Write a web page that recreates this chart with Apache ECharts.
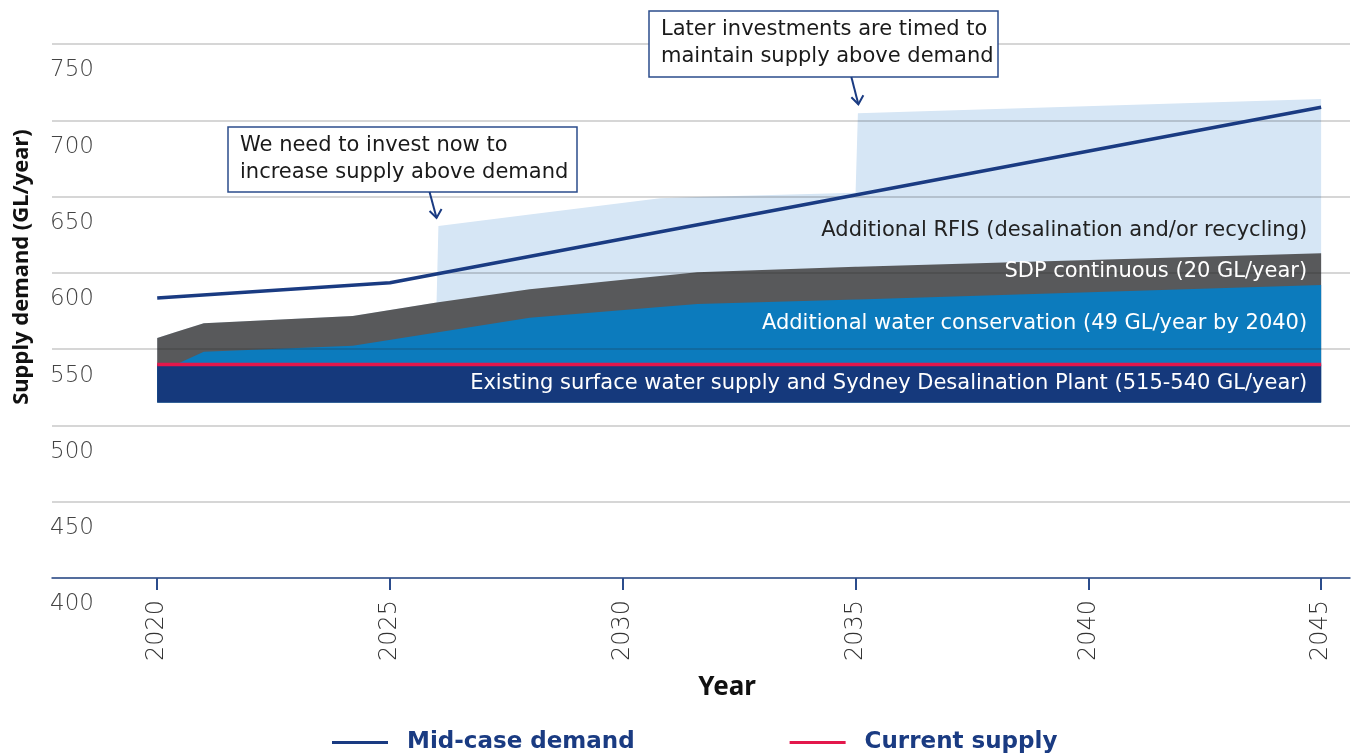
<!DOCTYPE html>
<html>
<head>
<meta charset="utf-8">
<script src="https://cdn.jsdelivr.net/npm/echarts@6/dist/echarts.min.js"></script>
<style>
  html, body { margin: 0; padding: 0; background: #fff; }
  #chart { width: 1356px; height: 754px; }
</style>
</head>
<body>
<div id="chart"></div>
<script>
// boundary readings (GL/year) at shared x points
const years = [2020, 2020.4, 2021, 2024.2, 2026, 2026.04, 2028, 2030.8, 2031.6, 2035, 2035.05, 2045]
const existingLow = 515
const existingTop = [540, 540, 540, 540, 540, 540, 540, 540, 540, 540, 540, 540]
const conservationTop = [540, 540, 548.3, 552.3, 560.9, 561.1, 570.6, 577.6, 579.6, 582.5, 582.5, 592]
const sdpTop = [557.3, 561.2, 567, 571.7, 580.5, 580.7, 589.2, 597.9, 600.4, 604, 604, 612.8]
const rfisTop = [557.3, 561.2, 567, 571.7, 580.5, 630.7, 638.2, 648.9, 649.7, 652.5, 704.6, 714]

const demandYears = [2020, 2025, 2045]
const demandValues = [583.6, 593.5, 708.6]
const supplyYears = [2020, 2045]
const supplyValues = [540, 540]

const tickYears = [2020, 2025, 2030, 2035, 2040, 2045]

const NAVY = '#1a3b82'
const FONT = 'DejaVu Sans'

// each layer is filled down to the bottom of the existing supply; later layers paint over earlier ones
function layer(name, top, color) {
  return {
    name,
    type: 'line',
    data: years.map((x, i) => [x, top[i]]),
    symbol: 'none',
    lineStyle: { width: 0 },
    areaStyle: { color, opacity: 1, origin: existingLow },
    z: 2,
    silent: true,
  }
}

const chart = echarts.init(document.getElementById('chart'))

chart.setOption({
  animation: false,
  textStyle: { fontFamily: FONT },
  grid: { left: 52, right: 6, top: 44, bottom: 176 },
  legend: {
    data: ['Mid-case demand', 'Current supply'],
    left: 332,
    top: 731,
    padding: 0,
    icon: 'rect',
    itemWidth: 56,
    itemHeight: 3,
    itemGap: 155,
    textStyle: { fontSize: 23, fontWeight: 'bold', color: NAVY, fontFamily: FONT, padding: [0, 0, 0, 14] },
  },
  xAxis: {
    type: 'value',
    min: 2017.74,
    max: 2045.62,
    z: 4,
    splitLine: { show: false },
    axisLine: { lineStyle: { color: '#2b4c8c', width: 1.5 } },
    axisTick: { customValues: tickYears, length: 12, lineStyle: { color: '#2b4c8c', width: 2 } },
    axisLabel: {
      customValues: tickYears,
      formatter: v => String(v),
      rotate: 90,
      margin: 22,
      fontSize: 24,
      color: '#333',
      fontFamily: FONT,
      fontWeight: 'lighter',
    },
  },
  yAxis: {
    type: 'value',
    min: 400,
    max: 750,
    interval: 50,
    z: 3,
    axisLine: { show: false },
    axisTick: { show: false },
    splitLine: { lineStyle: { color: 'rgba(40,40,40,0.25)', width: 1.5 } },
    axisLabel: {
      align: 'left',
      verticalAlign: 'top',
      margin: 2,
      padding: [15, 0, 0, 0],
      fontSize: 23,
      color: '#444',
      fontFamily: FONT,
      fontWeight: 'lighter',
    },
  },
  series: [
    layer('RFIS', rfisTop, '#d6e6f5'),
    layer('SDP', sdpTop, '#58595b'),
    layer('Conservation', conservationTop, '#0c7bbd'),
    layer('Existing', existingTop, '#15397c'),
    {
      name: 'Current supply',
      type: 'line',
      data: supplyYears.map((x, i) => [x, supplyValues[i]]),
      symbol: 'none',
      lineStyle: { color: '#e3174b', width: 3.5 },
      itemStyle: { color: '#e3174b' },
      z: 5,
    },
    {
      name: 'Mid-case demand',
      type: 'line',
      data: demandYears.map((x, i) => [x, demandValues[i]]),
      symbol: 'none',
      lineStyle: { color: NAVY, width: 3.5 },
      itemStyle: { color: NAVY },
      z: 6,
    },
  ],
})

// labels and annotations placed from data coordinates
const px = (x, y) => chart.convertToPixel({ gridIndex: 0 }, [x, y])

function layerLabel(text, y, color) {
  const p = px(2044.7, y)
  return {
    type: 'text',
    x: p[0],
    y: p[1],
    z: 20,
    style: { text, fill: color, font: `21px "${FONT}"`, textAlign: 'right', textVerticalAlign: 'middle' },
  }
}

function callout(left, top, w, h, lines, tip) {
  return [
    {
      type: 'rect',
      shape: { x: left, y: top, width: w, height: h },
      style: { fill: '#fff', stroke: '#2b4c8c', lineWidth: 1.5 },
      z: 20,
    },
    {
      type: 'text',
      x: left + 12,
      y: top + 5,
      z: 21,
      style: { text: lines.join('\n'), fill: '#1a1a1a', font: `21px "${FONT}"`, lineHeight: 27 },
    },
    {
      type: 'line',
      shape: { x1: tip[0] - 7, y1: top + h, x2: tip[0], y2: tip[1] },
      style: { stroke: NAVY, lineWidth: 2 },
      z: 20,
    },
    {
      type: 'polyline',
      shape: { points: [[tip[0] - 7, tip[1] - 7], [tip[0], tip[1]], [tip[0] + 5, tip[1] - 9]] },
      style: { stroke: NAVY, lineWidth: 2, fill: null },
      z: 20,
    },
  ]
}

const tip1 = px(2026.0, 636)
const tip2 = px(2035.06, 710.5)

chart.setOption({
  graphic: [
    layerLabel('Additional RFIS (desalination and/or recycling)', 628, '#222'),
    layerLabel('SDP continuous (20 GL/year)', 600.6, '#fff'),
    layerLabel('Additional water conservation (49 GL/year by 2040)', 566.5, '#fff'),
    layerLabel('Existing surface water supply and Sydney Desalination Plant (515-540 GL/year)', 527.2, '#fff'),
    ...callout(228, 127, 349, 65, ['We need to invest now to', 'increase supply above demand'], tip1),
    ...callout(649, 11, 349, 66, ['Later investments are timed to', 'maintain supply above demand'], tip2),
    {
      type: 'text',
      x: 22,
      y: 267,
      rotation: Math.PI / 2,
      z: 20,
      style: { text: 'Supply demand (GL/year)', fill: '#111', font: 'bold 22px "Noto Sans"', textAlign: 'center', textVerticalAlign: 'middle' },
    },
    {
      type: 'text',
      x: 727,
      y: 688,
      z: 20,
      style: { text: 'Year', fill: '#111', font: 'bold 26px "Noto Sans"', textAlign: 'center', textVerticalAlign: 'middle' },
    },
  ],
})
</script>
</body>
</html>
